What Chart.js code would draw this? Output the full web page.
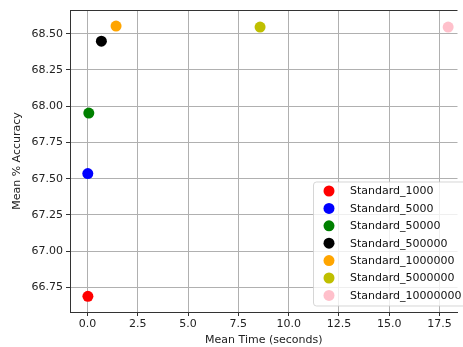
<!DOCTYPE html>
<html>
<head>
<meta charset="utf-8">
<script src="https://cdn.jsdelivr.net/npm/chart.js@4"></script>
<style>
    html, body { margin: 0; padding: 0; background: #fff; overflow: hidden; }
    #wrap { width: 463px; height: 347px; }
</style>
</head>
<body>
<div id="wrap"><canvas id="chart" width="463" height="347"></canvas></div>
<script>
// Data
const seriesNames = ["Standard_1000", "Standard_5000", "Standard_50000", "Standard_500000",
    "Standard_1000000", "Standard_5000000", "Standard_10000000"];
const meanTimes = [0.02, 0.015, 0.065, 0.69, 1.42, 8.58, 17.93];
const meanAccuracy = [66.688, 67.535, 67.953, 68.449, 68.553, 68.546, 68.546];
const pointColors = ["#ff0000", "#0000ff", "#008000", "#000000", "#ffa500", "#bfbf00", "#ffc0cb"];
const xTicks = [0, 2.5, 5, 7.5, 10, 12.5, 15, 17.5];
const yTicks = [66.75, 67.0, 67.25, 67.5, 67.75, 68.0, 68.25, 68.5];

const fontFamily = "'DejaVu Sans', sans-serif";

// Legend drawn inside the plot, lower right, like matplotlib (its right part is cut off by the page edge)
const innerLegend = {
    id: "innerLegend",
    afterDraw(chart) {
        const c = chart.ctx;
        const area = chart.chartArea;
        const sets = chart.data.datasets;
        c.save();
        c.font = "11px " + fontFamily;
        const rowH = 17.4;
        const left = 313;
        const top = area.bottom - 130.5;
        const h = 124;
        const w = 160;
        c.globalAlpha = 0.8;
        c.fillStyle = "#fff";
        c.strokeStyle = "#cccccc";
        c.lineWidth = 1;
        c.beginPath();
        c.roundRect(left + 0.5, top + 0.5, w, h, 3);
        c.fill();
        c.stroke();
        c.globalAlpha = 1;
        sets.forEach((d, i) => {
            const y = top + 9.5 + i * rowH;
            c.fillStyle = d.backgroundColor;
            c.beginPath();
            c.arc(left + 16, y, 5.5, 0, Math.PI * 2);
            c.fill();
            c.fillStyle = "#111";
            c.textBaseline = "middle";
            c.textAlign = "left";
            c.fillText(d.label, left + 37, y + 0.5);
        });
        c.restore();
    },
};

// Top spine
const frame = {
    id: "frame",
    afterDatasetsDraw(chart) {
        const c = chart.ctx;
        const a = chart.chartArea;
        c.save();
        c.strokeStyle = "#333";
        c.lineWidth = 1;
        c.beginPath();
        c.moveTo(a.left, a.top + 0.5);
        c.lineTo(a.right, a.top + 0.5);
        c.stroke();
        c.restore();
    },
};

const datasets = seriesNames.map((name, i) => ({
    label: name,
    data: [{ x: meanTimes[i], y: meanAccuracy[i] }],
    backgroundColor: pointColors[i],
    borderColor: pointColors[i],
    pointRadius: 5.5,
    pointBorderWidth: 0,
}));

new Chart(document.getElementById("chart").getContext("2d"), {
    type: "scatter",
    data: { datasets },
    plugins: [innerLegend, frame],
    options: {
        responsive: false,
        animation: false,
        layout: { padding: { top: 10, right: 0, left: 0, bottom: 0 } },
        plugins: { legend: { display: false }, tooltip: { enabled: false } },
        scales: {
            x: {
                type: "linear",
                min: -0.87,
                max: 18.395,
                afterFit: (s) => { s.height = 35; },
                afterBuildTicks: (s) => { s.ticks = xTicks.map((v) => ({ value: v })); },
                ticks: {
                    color: "#222",
                    padding: 2,
                    maxRotation: 0,
                    font: { family: fontFamily, size: 11 },
                    callback: (v) => v.toFixed(1),
                },
                grid: { color: "#b0b0b0", tickColor: "#333", tickLength: 4, lineWidth: 1 },
                border: { color: "#333", width: 1 },
                title: {
                    display: true,
                    text: "Mean Time (seconds)",
                    color: "#222",
                    padding: { top: 0, bottom: 0 },
                    font: { family: fontFamily, size: 11 },
                },
            },
            y: {
                type: "linear",
                min: 66.58,
                max: 68.664,
                afterFit: (s) => { s.width = 70; },
                afterBuildTicks: (s) => { s.ticks = yTicks.map((v) => ({ value: v })); },
                ticks: {
                    color: "#222",
                    padding: 3,
                    font: { family: fontFamily, size: 11 },
                    callback: (v) => v.toFixed(2),
                },
                grid: { color: "#b0b0b0", tickColor: "#333", tickLength: 4, lineWidth: 1 },
                border: { color: "#333", width: 1 },
                title: {
                    display: true,
                    text: "Mean % Accuracy",
                    color: "#222",
                    padding: { top: 11, bottom: 0 },
                    font: { family: fontFamily, size: 11 },
                },
            },
        },
    },
});
</script>
</body>
</html>
